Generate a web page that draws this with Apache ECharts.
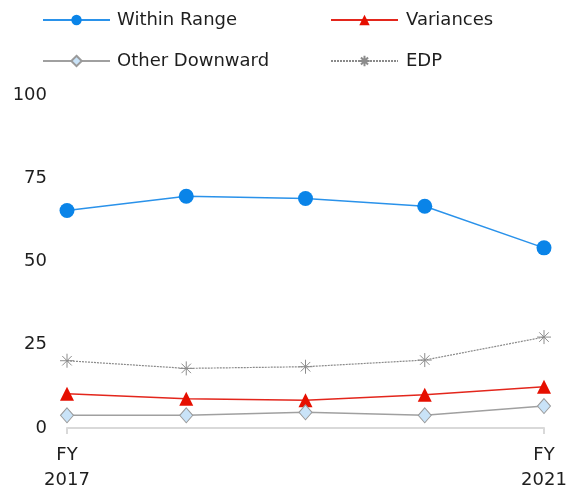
<!DOCTYPE html>
<html>
<head>
<meta charset="utf-8">
<script src="https://cdn.jsdelivr.net/npm/echarts@6/dist/echarts.min.js"></script>
<style>html,body{margin:0;padding:0;background:#fff}#c{width:580px;height:493px}</style>
</head>
<body>
<div id="c"></div>
<script>
var categories = ['FY\n2017', 'FY\n2018', 'FY\n2019', 'FY\n2020', 'FY\n2021'];
var withinRange = [65.3, 69.6, 68.9, 66.6, 54.1];
var variances = [10.3, 8.8, 8.3, 10.0, 12.4];
var otherDownward = [3.8, 3.8, 4.7, 3.8, 6.6];
var edp = [20.2, 17.9, 18.4, 20.4, 27.3];
var yTicks = [0, 25, 50, 75, 100];

var FONT = 'DejaVu Sans';
var TXT = '#1e1e1e';
var star = 'path://M0,5L10,5M5,0L5,10M1.6,1.6L8.4,8.4M8.4,1.6L1.6,8.4';

var chart = echarts.init(document.getElementById('c'));
chart.setOption({
  animation: false,
  textStyle: {fontFamily: FONT},
  legend: [
    {left: 42, top: 11, orient: 'vertical', padding: 0, itemWidth: 67, itemHeight: 13, itemGap: 23,
     textStyle: {fontFamily: FONT, fontSize: 18, color: TXT, padding: [0, 0, 0, 2]},
     data: ['Within Range', 'Other Downward']},
    {left: 330, top: 11, orient: 'vertical', padding: 0, itemWidth: 67, itemHeight: 13, itemGap: 23,
     textStyle: {fontFamily: FONT, fontSize: 18, color: TXT, padding: [0, 0, 0, 3]},
     data: ['Variances', 'EDP']}
  ],
  grid: {left: 67, right: 36, top: 95, bottom: 64},
  xAxis: {
    type: 'category', data: categories, boundaryGap: false,
    axisLine: {lineStyle: {color: '#d9d9d9', width: 2}},
    axisTick: {length: 6, lineStyle: {color: '#d9d9d9', width: 2}},
    axisLabel: {
      margin: 15, fontFamily: FONT, fontSize: 18, color: TXT, lineHeight: 25,
      interval: function (i) { return i === 0 || i === categories.length - 1; }
    }
  },
  yAxis: {
    type: 'value', min: yTicks[0], max: yTicks[yTicks.length - 1], interval: 25,
    axisLine: {show: false}, axisTick: {show: false}, splitLine: {show: false},
    axisLabel: {margin: 20, fontFamily: FONT, fontSize: 18, color: TXT}
  },
  series: [
    {name: 'Within Range', type: 'line', data: withinRange, symbol: 'circle', symbolSize: 15,
     itemStyle: {color: '#0a84e8'}, lineStyle: {color: '#2a92ea', width: 1.5}},
    {name: 'Variances', type: 'line', data: variances, symbol: 'triangle', symbolSize: 14,
     itemStyle: {color: '#e60f00'}, lineStyle: {color: '#e3261c', width: 1.5}},
    {name: 'Other Downward', type: 'line', data: otherDownward, symbol: 'diamond', symbolSize: [13, 15],
     itemStyle: {color: '#c9e3f8', borderColor: '#9a9a9a', borderWidth: 1}, lineStyle: {color: '#a0a0a0', width: 1.5}},
    {name: 'EDP', type: 'line', data: edp, symbol: star, symbolSize: 14, symbolKeepAspect: true,
     itemStyle: {color: 'rgba(0,0,0,0)', borderColor: '#8c8c8c', borderWidth: 1},
     lineStyle: {color: '#8a8a8a', width: 1.2, type: [2, 1]}}
  ]
});
</script>
</body>
</html>
